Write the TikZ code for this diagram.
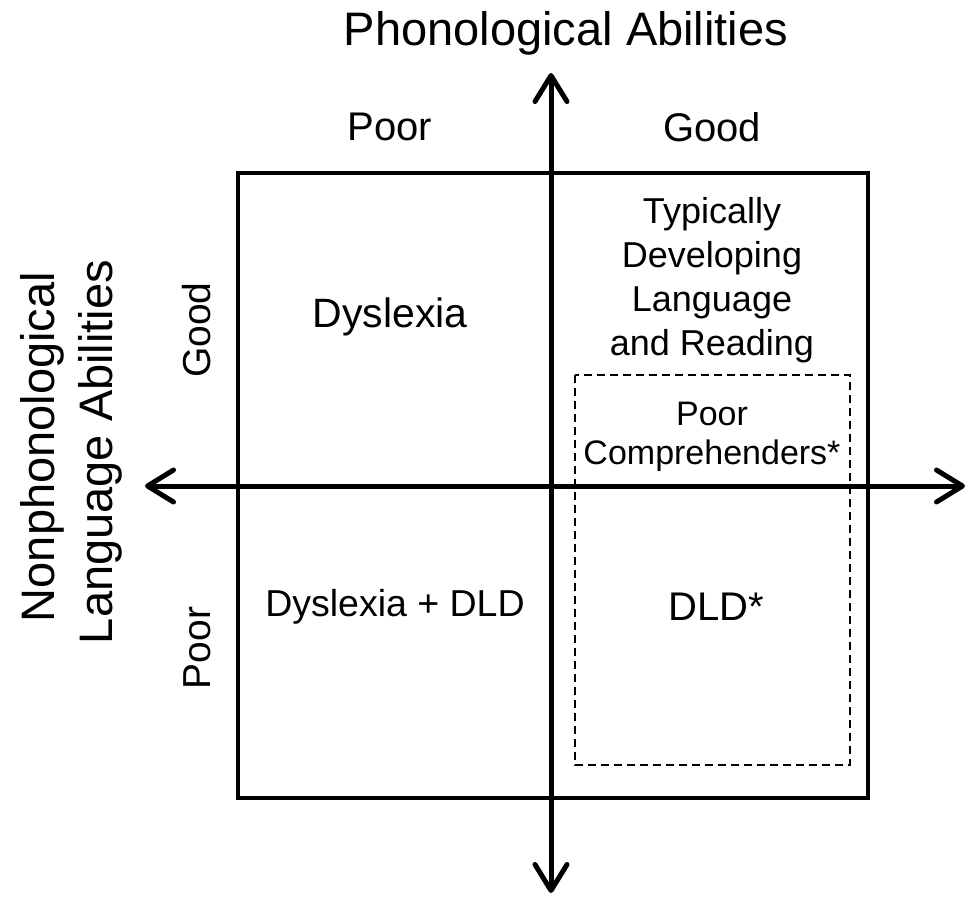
\documentclass[tikz,border=0pt]{standalone}
\usepackage{fontspec}
\setmainfont{Liberation Sans}
\usepackage{tikz}
\usetikzlibrary{arrows.meta, positioning}

\tikzset{
  axis/.style={line width=5pt, -{Straight Barb[length=26pt, width=32pt, round]}},
  quad/.style={line width=3.5pt},
  subgroup/.style={line width=1.6pt, dash pattern=on 8pt off 5pt},
  lbl/.style={inner sep=0pt, align=center}
}

\begin{document}
\begin{tikzpicture}[x=1pt, y=-1pt]
  \useasboundingbox (0,0) rectangle (967,898);

  % Quadrant frame and the dashed subgroup region
  \draw[quad] (238,173) rectangle (868,798);
  \draw[subgroup] (575,375) rectangle (850,765);

  % Axis end points
  \coordinate (top) at (551,73);
  \coordinate (bot) at (551,893);
  \coordinate (lft) at (145,486);
  \coordinate (rgt) at (965,486);

  % Axes, arrow at both ends
  \draw[axis] (551,486) -- (top);
  \draw[axis] (551,486) -- (bot);
  \draw[axis] (551,486) -- (lft);
  \draw[axis] (551,486) -- (rgt);

  % Axis titles
  \node[lbl, font=\fontsize{47}{56}\selectfont] (phon) at (566,33) {Phonological Abilities};
  \node[lbl, font=\fontsize{47}{56}\selectfont, rotate=90] (nonphon) at (42,447) {Nonphonological};
  \node[lbl, font=\fontsize{47}{56}\selectfont, rotate=90] (langab) at (100,452) {Language Abilities};

  % Level labels
  \node[lbl, font=\fontsize{40}{48}\selectfont] (xpoor) at (390,127) {Poor};
  \node[lbl, font=\fontsize{40}{48}\selectfont] (xgood) at (712,127) {Good};
  \node[lbl, font=\fontsize{39}{47}\selectfont, rotate=90] (ygood) at (197,330) {Good};
  \node[lbl, font=\fontsize{39}{47}\selectfont, rotate=90] (ypoor) at (197,648) {Poor};

  % Quadrant contents
  \node[lbl, font=\fontsize{41}{49}\selectfont] (dys) at (390,317) {Dyslexia};
  \node[lbl, font=\fontsize{36}{44}\selectfont] (typ) at (712,280)
    {Typically\\Developing\\Language\\and Reading};
  \node[lbl, font=\fontsize{34}{39}\selectfont] (pcomp) at (712,437)
    {Poor\\Comprehenders*};
  \node[lbl, font=\fontsize{37.5}{45}\selectfont] (dysdld) at (395,607) {Dyslexia + DLD};
  \node[lbl, font=\fontsize{40}{48}\selectfont] (dld) at (716,607) {DLD*};
\end{tikzpicture}
\end{document}
